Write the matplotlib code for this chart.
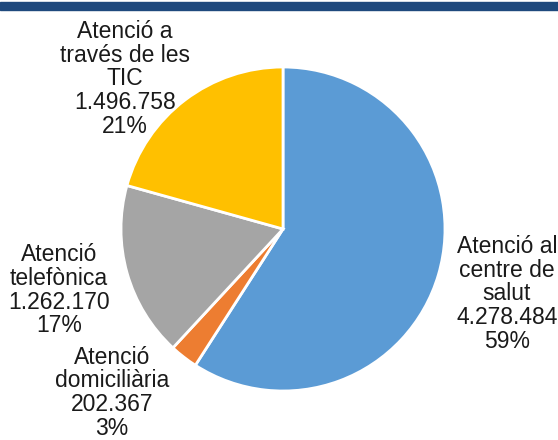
from matplotlib import pyplot as plt
from matplotlib.patches import Rectangle

# data, clockwise from the top
categories = ["Atenció al\ncentre de\nsalut", "Atenció\ndomiciliària",
              "Atenció\ntelefònica", "Atenció a\ntravés de les\nTIC"]
values = [4278484, 202367, 1262170, 1496758]
colors = ["#5B9BD5", "#ED7D31", "#A5A5A5", "#FFC000"]

# label centres in pie-radius units
label_pos = [(1.383, -0.401), (-1.056, -1.012), (-1.383, -0.377), (-0.975, 0.926)]

plt.rcParams['font.family'] = ['Liberation Sans', 'DejaVu Sans']

W, H = 558, 440
cx, cy, r = 283, 229, 162  # pie centre and radius in pixels

fig = plt.figure(figsize=(W / 100, H / 100), dpi=100)
# dark band at the top
fig.patches.append(Rectangle((0, 1 - 10 / H), 1, 8 / H, transform=fig.transFigure,
                             color="#1F497D", zorder=0))

ax = fig.add_axes([0, 0, 1, 1])
ax.pie(values, colors=colors, startangle=90, counterclock=False, radius=1,
       wedgeprops=dict(edgecolor='white', linewidth=2))
ax.set_xlim(-cx / r, (W - cx) / r)
ax.set_ylim(-(H - cy) / r, cy / r)
ax.set_aspect('auto')
ax.axis('off')

total = sum(values)
for cat, val, (x, y) in zip(categories, values, label_pos):
    txt = cat + "\n" + f"{val:,}".replace(",", ".") + "\n" + f"{round(val / total * 100)}%"
    ax.text(x, y, txt, ha='center', va='center', fontsize=16.5, linespacing=1.05,
            color='#1a1a1a')

fig.savefig("out.png", dpi=100)
